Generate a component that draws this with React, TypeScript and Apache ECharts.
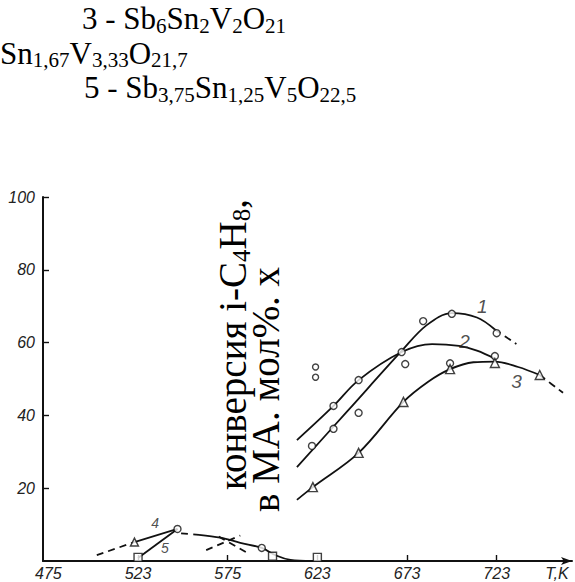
import React, { useEffect, useRef } from 'react';
import * as echarts from 'echarts';

// Axis ticks / labels
const xTickValues = [473, 523, 573, 623, 673, 723];
const xTickLabels = ['475', '523', '575', '623', '673', '723'];
const xTickMarks = [523, 573, 623, 673, 723];

// Curve 1 (circles)
const curve1Solid = [[611.6, 25.8], [640, 41.3], [670, 57.7], [684, 64.8], [698, 68.1], [712, 66.9], [722, 63.6]];
const curve1Dashed = [[722, 63.6], [734, 59.6]];
const curve1Circles = [[620, 31.6], [632, 36.3], [646, 40.7], [672, 54.1], [682, 65.9], [698, 67.9], [723, 62.6]];

// Curve 2 (circles)
const curve2Solid = [[611.6, 33.2], [632, 42.6], [646, 49.7], [670, 57.4], [687, 59.6], [702, 59.1], [712, 57.8], [722, 55.6]];
const curve2Circles = [[632, 42.6], [646, 49.7], [670, 57.4], [722, 56.3], [697, 54.3]];

// Curve 3 (triangles)
const curve3Solid = [[611.6, 16.8], [620.5, 20.3], [646, 29.7], [671, 43.7], [685, 49.3], [697, 52.7], [710, 54.6], [722, 54.8], [735, 53.3], [747, 51.1]];
const curve3Dashed = [[747, 51.1], [760, 46.2]];
const curve3Triangles = [[620.5, 20.3], [646, 29.7], [671, 43.7], [697, 52.7], [722, 54.4], [747, 51.1]];

// Curves 4 and 5 (low conversion region)
const curve4Dashed = [[500, 1.6], [521, 5.2]];
const curve4Solid = [[521, 5.2], [545, 8.8]];
const curve4Triangles = [[521, 5.2]];
const curve5Solid = [[523, 0.8], [545, 8.8]];
const curve5Squares = [[523, 1], [598, 1.3], [623, 1]];
const bellDashed = [[547, 7.6], [557, 7.2]];
const bellSolid = [[557, 7.2], [569, 6.4], [580, 5.0], [592, 3.6], [600, 1.5], [608, 0.3], [620, 0]];
const bellCircles = [[545, 8.8], [592, 3.6]];
const crossRise = [[561, 3.0], [580, 7.0]];
const crossFall = [[568, 6.7], [584, 2.2]];
const strayCircles = [[622, 53.3], [622, 50.5]];

// Curve number labels
const bigLabels = [[715, 69.8, '1'], [705, 60.2, '2'], [734, 49.2, '3']];
const smallLabels = [[532.5, 10.4, '4'], [538, 3.6, '5']];

const INK = '#111';
const SERIF = '"Liberation Serif", "Times New Roman", serif';
const HAND = '"Liberation Sans", "DejaVu Sans", sans-serif';

function line(data: number[][], dashed: boolean) {
  return {
    type: 'line',
    data,
    smooth: 0.35,
    symbol: 'none',
    silent: true,
    z: 2,
    lineStyle: { color: INK, width: 1.8, type: dashed ? [7, 5] : 'solid' },
  };
}

function markers(data: number[][], symbol: string, size: number) {
  return {
    type: 'scatter',
    data,
    symbol,
    symbolSize: size,
    silent: true,
    z: 3,
    itemStyle: { color: '#fff', borderColor: INK, borderWidth: 1.4 },
  };
}

function labels(data: (number | string)[][], size: number) {
  return {
    type: 'scatter',
    data,
    symbolSize: 1,
    silent: true,
    z: 4,
    itemStyle: { color: 'rgba(0,0,0,0)' },
    label: {
      show: true,
      position: 'inside',
      formatter: (p: any) => p.value[2],
      fontStyle: 'italic',
      fontFamily: HAND,
      fontSize: size,
      color: '#222',
    },
  };
}

const titleRich = {
  m: { fontFamily: SERIF, fontSize: 31, lineHeight: 34, padding: [0, 0, 2, 0], verticalAlign: 'bottom', fill: '#000' },
  s: { fontFamily: SERIF, fontSize: 21, lineHeight: 34, verticalAlign: 'bottom', fill: '#000' },
};
const vertRich = {
  m: { fontFamily: SERIF, fontSize: 39, lineHeight: 46, padding: [0, 0, 2, 0], verticalAlign: 'bottom', fill: '#000' },
  s: { fontFamily: SERIF, fontSize: 25, lineHeight: 46, verticalAlign: 'bottom', fill: '#000' },
};

export default function App() {
  const ref = useRef<HTMLDivElement>(null);
  useEffect(() => {
    const chart = echarts.init(ref.current!, null, { renderer: 'svg' });
    const option: any = {
      animation: false,
      backgroundColor: '#fff',
      grid: { left: 43, right: 3, top: 197, bottom: 21, containLabel: false },
      xAxis: {
        type: 'value',
        min: 470,
        max: 765,
        splitLine: { show: false },
        axisLine: { onZero: false, lineStyle: { color: INK, width: 2 }, symbol: ['none', 'arrow'], symbolSize: [6, 11] },
        axisTick: { show: true, inside: true, length: 6, customValues: xTickMarks, lineStyle: { color: INK, width: 1.4 } },
        axisLabel: {
          customValues: xTickValues,
          formatter: (v: number) => {
            const i = xTickValues.indexOf(Math.round(v));
            return i >= 0 ? xTickLabels[i] : '';
          },
          margin: 4,
          fontStyle: 'italic',
          fontFamily: HAND,
          fontSize: 16,
          color: '#222',
        },
      },
      yAxis: {
        type: 'value',
        min: 0,
        max: 100,
        interval: 20,
        splitLine: { show: false },
        axisLine: { show: true, lineStyle: { color: INK, width: 2 } },
        axisTick: { show: true, inside: true, length: 6, lineStyle: { color: INK, width: 1.4 } },
        axisLabel: {
          showMinLabel: false,
          formatter: (v: number) => (v === 0 ? '' : String(v)),
          margin: 8,
          fontStyle: 'italic',
          fontFamily: HAND,
          fontSize: 16,
          color: '#222',
        },
      },
      series: [
        line(curve1Solid, false),
        line(curve1Dashed, true),
        line(curve2Solid, false),
        line(curve3Solid, false),
        line(curve3Dashed, true),
        line(curve4Dashed, true),
        line(curve4Solid, false),
        line(curve5Solid, false),
        line(bellDashed, true),
        line(bellSolid, false),
        line(crossRise, true),
        line(crossFall, true),
        markers(curve1Circles, 'circle', 7),
        markers(curve2Circles, 'circle', 7),
        markers(strayCircles, 'circle', 6),
        markers(bellCircles, 'circle', 7),
        markers(curve3Triangles, 'triangle', 9),
        markers(curve4Triangles, 'triangle', 8),
        markers(curve5Squares, 'rect', 8),
        labels(bigLabels, 19),
        labels(smallLabels, 14),
      ],
      graphic: [
        {
          type: 'text', x: 82, y: 2, silent: true,
          style: { text: '{m|3 - Sb}{s|6}{m|Sn}{s|2}{m|V}{s|2}{m|O}{s|21}', rich: titleRich, align: 'left', verticalAlign: 'top' },
        },
        {
          type: 'text', x: 0, y: 36.5, silent: true,
          style: { text: '{m|Sn}{s|1,67}{m|V}{s|3,33}{m|O}{s|21,7}', rich: titleRich, align: 'left', verticalAlign: 'top' },
        },
        {
          type: 'text', x: 84, y: 71, silent: true,
          style: { text: '{m|5 - Sb}{s|3,75}{m|Sn}{s|1,25}{m|V}{s|5}{m|O}{s|22,5}', rich: titleRich, align: 'left', verticalAlign: 'top' },
        },
        {
          type: 'text', x: 254, y: 490, rotation: Math.PI / 2, silent: true,
          style: { text: '{m|конверсия i-C}{s|4}{m|H}{s|8}{m|,}', rich: vertRich, align: 'left', verticalAlign: 'bottom' },
        },
        {
          type: 'text', x: 287, y: 512, rotation: Math.PI / 2, silent: true,
          style: { text: '{m|в МА. мол%. х}', rich: vertRich, align: 'left', verticalAlign: 'bottom' },
        },
        {
          type: 'text', x: 557, y: 573, silent: true,
          style: { text: 'T,K', font: 'italic 16px ' + HAND, fill: '#222', align: 'center', verticalAlign: 'middle' },
        },
      ],
    };
    chart.setOption(option);
    return () => chart.dispose();
  }, []);
  return (
    <div
      ref={ref}
      style={{ position: 'fixed', left: 0, top: 0, width: 575, height: 582, background: '#fff' }}
    />
  );
}
